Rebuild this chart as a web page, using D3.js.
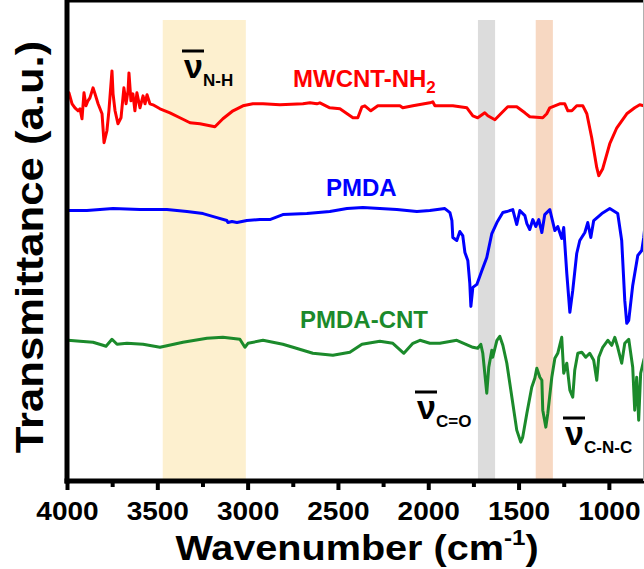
<!DOCTYPE html>
<html>
<head>
<meta charset="utf-8">
<script src="https://cdn.jsdelivr.net/npm/d3@7"></script>
<style>
  body { margin: 0; background: #fff; }
  svg { display: block; }
  text { font-family: "Liberation Sans", Arial, sans-serif; font-weight: bold; }
</style>
</head>
<body>
<svg width="644" height="569"></svg>
<script>
// spectra: [wavenumber (cm-1), transmittance (a.u., offset)]
var mwcntNH2 = [
  [3995,194],[3989,194],[3972,188.5],[3956,186.5],[3939,185],[3928,186],[3917,181],[3906,194],
  [3895,187.5],[3884,190],[3873,191.5],[3856,196.5],[3845,193.5],[3828,188.5],[3806,183.5],
  [3795,169],[3779,175],[3768,185],[3751,205],[3745,193.5],[3734,185],[3718,178.5],[3701,181.5],
  [3685,196.5],[3673,188.5],[3662,195],[3657,204],[3646,190],[3635,193.5],[3624,185],[3613,194],
  [3596,186.5],[3579,192.5],[3568,188.5],[3557,193],[3541,188.5],[3524,188],[3485,186],[3430,184],
  [3375,181.5],[3319,179],[3264,178.5],[3209,177.5],[3181,177],[3137,181],[3081,185],[3026,187.5],
  [2971,188.5],[2915,188.5],[2821,188],[2694,188.5],[2655,189],[2617,188.5],[2600,189],[2545,186.5],
  [2489,186],[2417,181.5],[2390,181.5],[2367,187],[2351,187.5],[2318,185],[2279,187.5],[2157,187.5],
  [2141,186.5],[2085,187.5],[1991,189],[1975,189.5],[1963,187.5],[1864,187.5],[1786,186.5],
  [1753,182.5],[1726,181.5],[1687,184],[1670,182.5],[1631,180.5],[1593,184],[1560,187],[1510,187],
  [1465,184],[1438,182],[1366,181.5],[1344,183.5],[1327,186.5],[1272,188.5],[1244,188.5],[1227,185],
  [1205,185],[1178,187.5],[1144,187.5],[1122,183.5],[1095,171.5],[1067,156.5],[1056,152.5],
  [1034,156],[995,168.5],[956,176.5],[901,183.5],[857,186.5],[829,188],[807,187.5],[800,187.5]
];

var pmda = [
  [3995,135],[3989,135],[3890,135],[3745,136],[3596,135.5],[3447,135.5],[3336,134.5],[3247,133.5],
  [3170,131.5],[3115,130],[3109,129],[3087,129.5],[3059,129],[3004,130],[2932,130.5],[2877,130.5],
  [2805,133],[2672,133.5],[2545,134.5],[2450,136],[2362,136.5],[2268,136],[2174,135.5],[2063,134.5],
  [1991,135],[1908,136],[1880,134],[1869,130],[1864,121.5],[1842,120],[1825,124.5],[1809,122.5],
  [1797,114],[1781,110],[1770,98.5],[1764,87],[1753,96.5],[1731,98],[1703,105],[1676,111.5],
  [1648,123.5],[1620,129],[1587,134],[1565,134.5],[1532,135.5],[1510,128],[1493,135],[1465,132.5],
  [1454,128.5],[1438,125.5],[1421,130.5],[1405,127],[1388,130.5],[1371,124],[1355,133],[1327,135.5],
  [1299,125],[1283,127],[1261,121],[1250,126.5],[1233,103.5],[1216,84],[1200,95],[1178,113.5],
  [1161,120],[1133,124],[1117,129],[1100,121.5],[1084,130],[1039,133.5],[995,136],[951,133.5],
  [929,120],[912,90],[901,78.5],[890,80],[868,97.5],[840,112.5],[818,115],[807,121.5],[800,127.5]
];

var pmdaCnt = [
  [3995,70],[3928,69.5],[3856,69],[3801,67.5],[3784,67],[3751,70.5],[3723,68],[3668,68.5],
  [3579,68],[3485,66.5],[3358,69],[3225,71],[3137,71.5],[3043,70.5],[3015,66.5],[2998,68.5],
  [2915,70],[2805,68],[2749,66.5],[2639,63.5],[2528,62.5],[2434,64],[2367,68],[2268,69.5],
  [2196,68.5],[2135,63.5],[2085,68.5],[2046,70],[1991,68.5],[1936,68.5],[1842,70],[1753,66.5],
  [1726,66],[1709,68],[1698,63.5],[1676,43.5],[1665,56.5],[1648,65],[1643,61.5],[1620,70],
  [1604,72],[1587,67.5],[1565,58.5],[1537,41.5],[1510,25],[1488,19],[1477,21.5],[1454,33.5],
  [1427,46.5],[1410,51],[1399,56],[1382,51.5],[1371,50],[1366,35],[1349,26.5],[1338,33.5],
  [1316,51.5],[1299,61],[1283,63.5],[1261,71.5],[1250,53.5],[1233,58.5],[1216,45],[1200,41.5],
  [1189,55],[1172,63.5],[1150,64],[1128,61.5],[1106,63.5],[1084,60],[1067,50],[1056,61.5],
  [1034,66.5],[1006,70],[984,67.5],[967,71.5],[951,66.5],[929,58.5],[912,68.5],[890,70.5],
  [868,56.5],[857,35],[846,51.5],[835,30],[824,53.5],[807,60],[800,62]
];

var majorTicks = [4000, 3500, 3000, 2500, 2000, 1500, 1000];
var minorTicks = [3750, 3250, 2750, 2250, 1750, 1250];
// highlighted bands (cm-1): N-H, C=O, C-N-C
var bandRanges = [[3470, 3010], [1725, 1630], [1405, 1310]];

var svg = d3.select("svg");

var x = d3.scaleLinear().domain([4000, 800]).range([67, 645]);
var y = d3.scaleLinear().domain([-0.5, 232.5]).range([481, 16]);

var bandColors = ["#fdf0cf", "#dcdcdc", "#f7d8c2"];

svg.selectAll("rect.band")
  .data(bandRanges)
  .enter().append("rect")
    .attr("class", "band")
    .attr("x", function(d) { return x(d[0]); })
    .attr("width", function(d) { return x(d[1]) - x(d[0]); })
    .attr("y", 20)
    .attr("height", y(-0.5) - 20)
    .attr("fill", function(d, i) { return bandColors[i]; });

var line = d3.line()
  .x(function(d) { return x(d[0]); })
  .y(function(d) { return y(d[1]); });

var series = [
  {data: mwcntNH2, color: "#ff0000"},
  {data: pmda, color: "#0000ff"},
  {data: pmdaCnt, color: "#1b8a2b"}
];

svg.selectAll("path.spec")
  .data(series)
  .enter().append("path")
    .attr("class", "spec")
    .attr("d", function(d) { return line(d.data); })
    .attr("fill", "none")
    .attr("stroke", function(d) { return d.color; })
    .attr("stroke-width", 3)
    .attr("stroke-linejoin", "round");

// frame
var left = x.range()[0], top = y.range()[1], bottom = y.range()[0];
svg.append("line").attr("x1", left).attr("x2", 644).attr("y1", top).attr("y2", top)
  .attr("stroke", "#000").attr("stroke-width", 5);
svg.append("line").attr("x1", left).attr("x2", left).attr("y1", top - 2.5).attr("y2", bottom + 2.5)
  .attr("stroke", "#000").attr("stroke-width", 5);
svg.append("line").attr("x1", left - 2.5).attr("x2", 644).attr("y1", bottom).attr("y2", bottom)
  .attr("stroke", "#000").attr("stroke-width", 5);
svg.append("line").attr("x1", 643.5).attr("x2", 643.5).attr("y1", top).attr("y2", bottom)
  .attr("stroke", "#b0b0b0").attr("stroke-width", 1);

// axis ticks
var gx = svg.append("g").attr("transform", "translate(0," + bottom + ")");
gx.call(d3.axisBottom(x).tickValues(majorTicks).tickSize(9).tickFormat(d3.format("d")));
gx.select(".domain").remove();
gx.selectAll(".tick line").attr("stroke-width", 4);
gx.selectAll(".tick text")
  .attr("y", 39).attr("dy", 0)
  .attr("font-size", 25)
  .attr("font-family", "Liberation Sans, Arial, sans-serif")
  .attr("font-weight", "bold")
  .attr("fill", "#000")
  .attr("transform", "scale(1.12,1)");

var gm = svg.append("g").attr("transform", "translate(0," + bottom + ")");
gm.call(d3.axisBottom(x).tickValues(minorTicks).tickSize(6).tickFormat(""));
gm.select(".domain").remove();
gm.selectAll(".tick line").attr("stroke-width", 4);

// axis titles
var xt = svg.append("text")
  .attr("transform", "translate(357,560) scale(1.1,1)")
  .attr("text-anchor", "middle")
  .attr("font-size", 36)
  .attr("fill", "#000");
xt.append("tspan").text("Wavenumber (cm");
xt.append("tspan").attr("font-size", 22).attr("dy", -15).text("-1");
xt.append("tspan").attr("dy", 15).text(")");

svg.append("text")
  .attr("transform", "translate(43,247) rotate(-90) scale(1.12,1)")
  .attr("text-anchor", "middle")
  .attr("font-size", 39)
  .attr("fill", "#000")
  .text("Transmittance (a.u.)");

// series labels
var lab = svg.append("text").attr("x", 293).attr("y", 87)
  .attr("font-size", 24).attr("fill", "#ff0000");
lab.append("tspan").text("MWCNT-NH");
lab.append("tspan").attr("font-size", 17).attr("dy", 6).text("2");

svg.append("text").attr("x", 326).attr("y", 196)
  .attr("font-size", 24).attr("fill", "#0000ff").text("PMDA");

svg.append("text").attr("x", 300).attr("y", 328)
  .attr("font-size", 24).attr("fill", "#1b8a2b").text("PMDA-CNT");

// vibration labels
function nuLabel(vx, vy, sub) {
  svg.append("line")
    .attr("x1", vx - 2).attr("x2", vx + 20)
    .attr("y1", vy - 27).attr("y2", vy - 27)
    .attr("stroke", "#000").attr("stroke-width", 3);
  svg.append("text").attr("x", vx).attr("y", vy)
    .attr("font-size", 34).attr("fill", "#000").text("ν");
  svg.append("text").attr("x", vx + 19).attr("y", vy + 8)
    .attr("font-size", 17).attr("fill", "#000").text(sub);
}
nuLabel(184, 78, "N-H");
nuLabel(417, 419, "C=O");
nuLabel(565, 445, "C-N-C");
</script>
</body>
</html>
